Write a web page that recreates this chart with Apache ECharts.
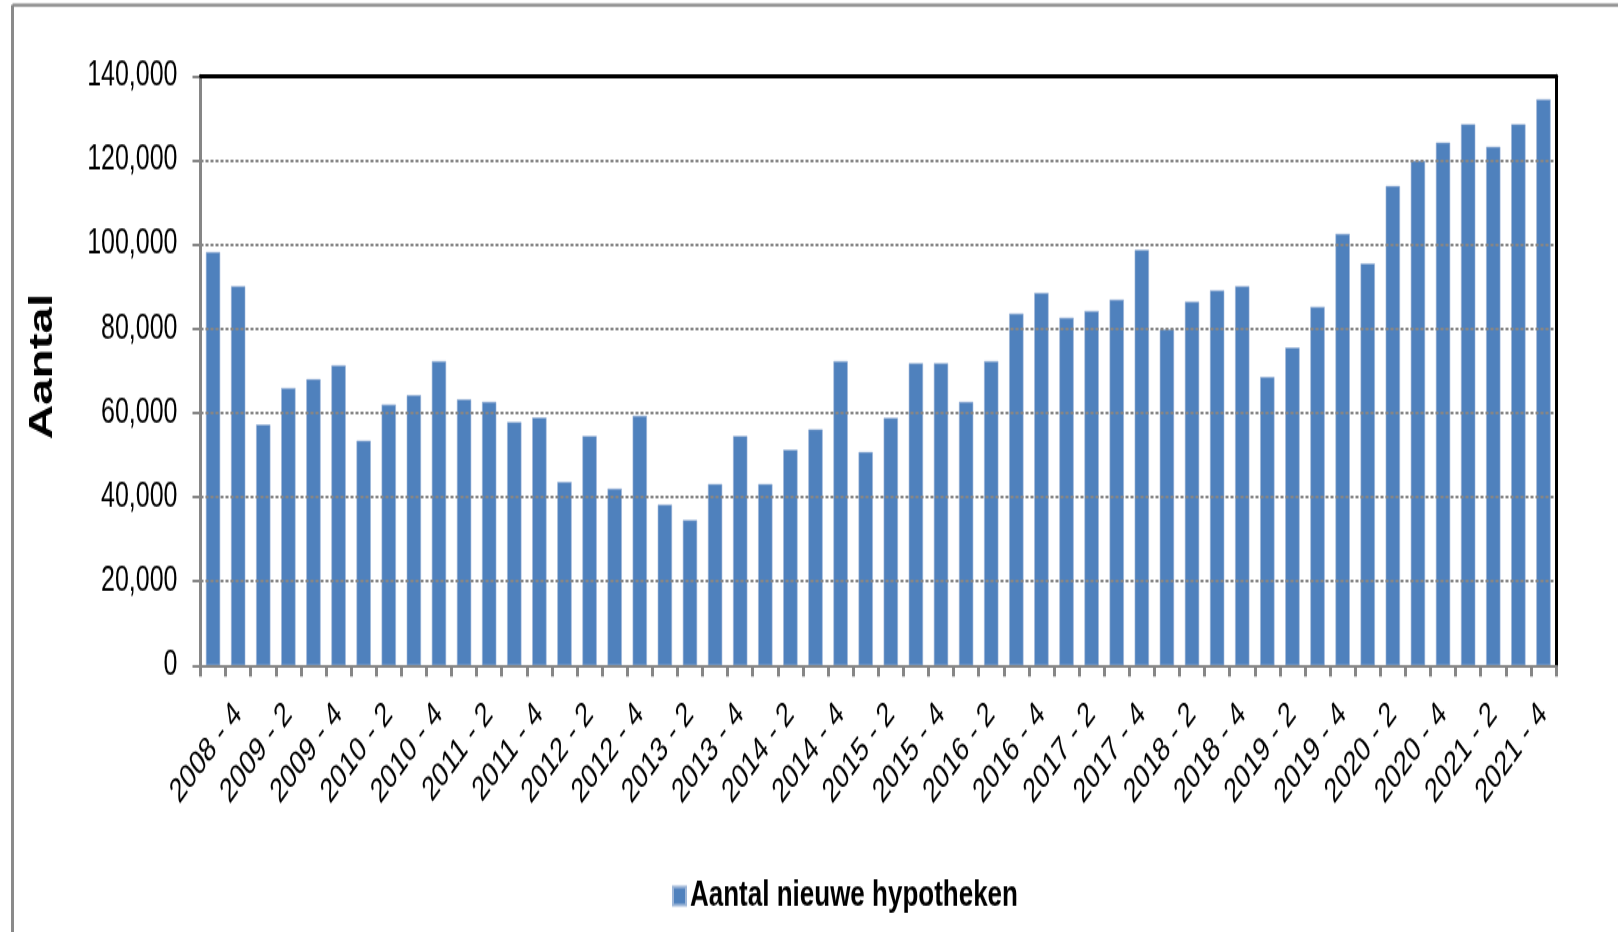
<!DOCTYPE html>
<html>
<head>
<meta charset="utf-8">
<title>Aantal nieuwe hypotheken</title>
<script src="https://cdn.jsdelivr.net/npm/echarts@6/dist/echarts.min.js"></script>
<style>
  html, body { margin: 0; padding: 0; background: #ffffff; overflow: hidden; }
  /* The chart is laid out in a shorter box and stretched vertically,
     giving the tall, condensed look of the exported spreadsheet chart. */
  #wrap { width: 1618px; height: 933px; overflow: hidden; }
  #chart { width: 1618px; height: 666.43px; transform: scaleY(1.4); transform-origin: 0 0; }
</style>
</head>
<body>
<div id="wrap"><div id="chart"></div></div>
<script>
// Quarters (year - quarter)
const quarters = [
  '2008 - 3', '2008 - 4',
  '2009 - 1', '2009 - 2', '2009 - 3', '2009 - 4',
  '2010 - 1', '2010 - 2', '2010 - 3', '2010 - 4',
  '2011 - 1', '2011 - 2', '2011 - 3', '2011 - 4',
  '2012 - 1', '2012 - 2', '2012 - 3', '2012 - 4',
  '2013 - 1', '2013 - 2', '2013 - 3', '2013 - 4',
  '2014 - 1', '2014 - 2', '2014 - 3', '2014 - 4',
  '2015 - 1', '2015 - 2', '2015 - 3', '2015 - 4',
  '2016 - 1', '2016 - 2', '2016 - 3', '2016 - 4',
  '2017 - 1', '2017 - 2', '2017 - 3', '2017 - 4',
  '2018 - 1', '2018 - 2', '2018 - 3', '2018 - 4',
  '2019 - 1', '2019 - 2', '2019 - 3', '2019 - 4',
  '2020 - 1', '2020 - 2', '2020 - 3', '2020 - 4',
  '2021 - 1', '2021 - 2', '2021 - 3', '2021 - 4'
];

// Number of new mortgages per quarter
const nieuweHypotheken = [
  98200, 90100,
  57200, 65900, 68000, 71300,
  53400, 62000, 64200, 72300,
  63200, 62600, 57800, 58900,
  43600, 54500, 42000, 59300,
  38200, 34500, 43100, 54500,
  43100, 51200, 56100, 72300,
  50700, 58800, 71800, 71800,
  62600, 72300, 83600, 88500,
  82600, 84200, 86900, 98700,
  79800, 86400, 89100, 90100,
  68500, 75500, 85200, 102500,
  95500, 113900, 119900, 124200,
  128600, 123200, 128600, 134500
];

// Value axis
const yMin = 0;
const yMax = 140000;
const yStep = 20000;

const seriesName = 'Aantal nieuwe hypotheken';
const axisTitle = 'Aantal';

const FONT = '"Liberation Sans", Arial, Helvetica, sans-serif';
const BAR = '#4F81BD';
const AXIS_GREY = '#868686';

const chart = echarts.init(document.getElementById('chart'), null, { renderer: 'canvas' });

const H = 933 / 1.4;

chart.setOption({
  animation: false,
  backgroundColor: '#ffffff',
  textStyle: { fontFamily: FONT },
  grid: { left: 200.5, right: 62, top: 54.3, bottom: H - 475.7, containLabel: false },
  legend: {
    data: [{ name: seriesName, icon: 'rect' }],
    left: 672,
    top: 627,
    padding: 0,
    itemWidth: 13,
    itemHeight: 13,
    itemGap: 0,
    textStyle: { fontFamily: FONT, fontSize: 26, fontWeight: 'bold', color: '#000', padding: [0, 0, 0, -1] }
  },
  xAxis: [
    {
      type: 'category',
      data: quarters,
      position: 'bottom',
      boundaryGap: true,
      z: 10,
      axisLine: { show: true, onZero: false, lineStyle: { color: AXIS_GREY, width: 2.2 } },
      axisTick: { show: true, interval: 0, length: 8, lineStyle: { color: AXIS_GREY, width: 3 } },
      axisLabel: {
        interval: function (i) { return i % 2 === 1; },
        rotate: 45,
        margin: 31,
        fontFamily: FONT,
        fontSize: 24.5,
        color: '#000'
      },
      splitLine: { show: false }
    },
    {
      // black plot-area edge along the top
      type: 'category',
      data: quarters,
      position: 'top',
      z: 10,
      axisLine: { show: true, onZero: false, lineStyle: { color: '#000', width: 2.8 } },
      axisTick: { show: false },
      axisLabel: { show: false },
      splitLine: { show: false }
    }
  ],
  yAxis: [
    {
      type: 'value',
      min: yMin,
      max: yMax,
      interval: yStep,
      position: 'left',
      z: 9,
      axisLine: { show: true, onZero: false, lineStyle: { color: AXIS_GREY, width: 3 } },
      axisTick: { show: true, length: 8, lineStyle: { color: AXIS_GREY, width: 2 } },
      axisLabel: {
        margin: 23,
        fontFamily: FONT,
        fontSize: 25,
        color: '#000',
        formatter: function (v) { return v.toLocaleString('en-US'); }
      },
      splitLine: { show: true, lineStyle: { color: AXIS_GREY, width: 2, type: [3, 2] } }
    },
    {
      // black plot-area edge along the right
      type: 'value',
      min: yMin,
      max: yMax,
      interval: yStep,
      position: 'right',
      z: 10,
      axisLine: { show: true, onZero: false, lineStyle: { color: '#000', width: 3 } },
      axisTick: { show: false },
      axisLabel: { show: false },
      splitLine: { show: false }
    }
  ],
  series: [
    {
      name: seriesName,
      type: 'bar',
      xAxisIndex: 0,
      yAxisIndex: 0,
      data: nieuweHypotheken,
      barWidth: '57%',
      itemStyle: { color: BAR, borderColor: '#9db6d8', borderWidth: 0.6 }
    }
  ],
  graphic: [
    // outer frame (left and top edges)
    { type: 'line', shape: { x1: 12.5, y1: 3.6, x2: 1618, y2: 3.6 }, style: { stroke: '#8a8a8a', lineWidth: 2.1 }, silent: true },
    { type: 'line', shape: { x1: 12.5, y1: 3.6, x2: 12.5, y2: H }, style: { stroke: '#8a8a8a', lineWidth: 3 }, silent: true },
    // value axis title
    {
      type: 'text',
      x: 43,
      y: 261.8,
      rotation: Math.PI / 2,
      style: {
        text: axisTitle,
        font: 'bold 34px ' + FONT,
        fill: '#000',
        textAlign: 'center',
        textVerticalAlign: 'middle'
      },
      silent: true
    }
  ]
});
</script>
</body>
</html>
